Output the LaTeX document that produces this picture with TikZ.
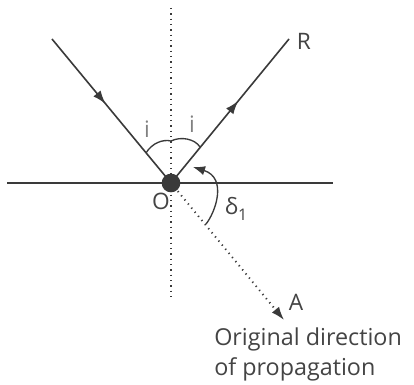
\documentclass[tikz,border=0pt]{standalone}
\usepackage{fontspec}
\setmainfont{Open Sans}
\usetikzlibrary{arrows.meta,decorations.markings}
\definecolor{ink}{HTML}{3A3A3A}
\definecolor{lbl}{HTML}{444444}
\begin{document}
\begin{tikzpicture}[x=0.75pt,y=-0.75pt,
  ray/.style={draw=ink,line width=1.2pt},
  dotline/.style={draw=ink,line width=1.4pt,dash pattern=on 0.9pt off 3.1pt},
  midarrow/.style={postaction={decorate},decoration={markings,mark=at position #1 with {\arrow{Latex[length=10pt,width=7pt]}}}},
  arcline/.style={draw=ink,line width=1pt},
  lab/.style={text=lbl,font=\fontsize{17}{20}\selectfont,inner sep=0pt}]
\fill[white] (0,0) rectangle (414,385);
\useasboundingbox (0,0) rectangle (414,385);
% points
\coordinate (O) at (171,183);
\coordinate (I) at (52,39);
\coordinate (Rend) at (289,39);
\coordinate (Aend) at (284,320);
\coordinate (Top) at (171,8);
\coordinate (Bot) at (171,298);
\coordinate (L) at (7,183);
\coordinate (Rt) at (333,183);
% surface
\draw[ray] (L) -- (Rt);
% normal
\draw[dotline] (Top) -- (Bot);
% original direction
\draw[dotline,-{Latex[length=10pt,width=7pt]}] (O) -- (Aend);
% incident and reflected rays
\draw[ray,midarrow=0.45] (I) -- (O);
\draw[ray,midarrow=0.57] (O) -- (Rend);
% angle arcs i
\draw[arcline] (146,153) .. controls (152,143) and (163,139) .. (171,141);
\draw[arcline] (171,141) .. controls (181,136) and (195,139) .. (200,147);
% delta arc
\draw[arcline,-{Latex[length=9pt,width=7pt]}] (206,224) .. controls (215,213) and (228,178) .. (193,167);
% dot
\node[circle,fill=ink,minimum size=14pt,inner sep=0pt] (Odot) at (O) {};
% labels
\node[lab,text=gray] (i1) at (147,129) {i};
\node[lab,text=gray] (i2) at (192,124) {i};
\node[lab] (Rl) at (304,41) {R};
\node[lab] (Al) at (296,302) {A};
\node[lab] (Ol) at (161,201) {O};
\node[lab] (dl) at (236,209) {δ\raisebox{-0.5ex}{\fontsize{12}{14}\selectfont 1}};
\node[text=lbl,font=\fontsize{17.5}{22.5}\selectfont,anchor=base west,align=left,inner sep=0pt] (txt) at (214,375) {Original direction\\of propagation};
\end{tikzpicture}
\end{document}
